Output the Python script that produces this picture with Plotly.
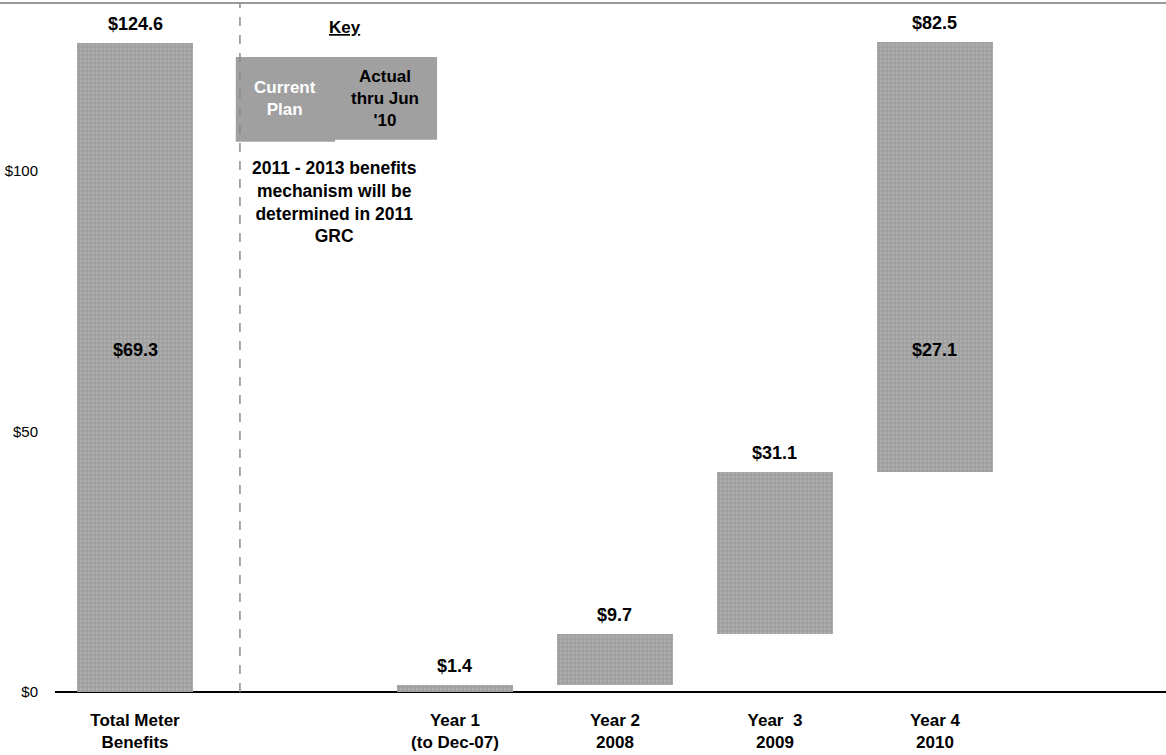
import plotly.graph_objects as go

# Smart meter benefits ($M), waterfall by program year
categories = ["Total Meter<br>Benefits", "Year 1<br>(to Dec-07)", "Year 2<br>2008", "Year  3<br>2009", "Year 4<br>2010"]
cat_pos = [0, 2, 3, 4, 5]
total_benefits = 124.6
year_values = [1.4, 9.7, 31.1, 82.5]
actual_labels = ["$69.3", "$27.1"]     # actual thru Jun '10 (total, year 4)
actual_pos = [0, 5]
y_ticks = [0, 50, 100]
y_ticktext = ["$0", "$50", "$100"]

# waterfall bases for the yearly steps
bases = []
running = 0.0
for v in year_values:
    bases.append(running)
    running += v

bar_x = cat_pos
bar_base = [0] + bases
bar_h = [total_benefits] + year_values
bar_tops = [b + h for b, h in zip(bar_base, bar_h)]
top_labels = [f"${v:.1f}" for v in bar_h]

BAR = "#a0a0a0"
FONT = "Liberation Sans, Arial, sans-serif"
NARROW = "Liberation Sans Narrow, Arial Narrow, Liberation Sans, sans-serif"

fig = go.Figure()
fig.add_trace(go.Bar(
    x=bar_x, y=bar_h, base=bar_base, width=0.72,
    marker=dict(color=BAR, line=dict(width=0),
                pattern=dict(shape=".", fgcolor="#bdbdbd", bgcolor=BAR, size=4, solidity=0.3)),
    hoverinfo="skip", showlegend=False,
))

annotations = []
for x, top, lab in zip(bar_x, bar_tops, top_labels):
    annotations.append(dict(x=x, y=top, text=f"<b>{lab}</b>", showarrow=False,
                            yanchor="middle", yshift=19, font=dict(size=18, color="black", family=FONT)))
for x, lab in zip(actual_pos, actual_labels):
    annotations.append(dict(x=x, y=65.6, text=f"<b>{lab}</b>", showarrow=False,
                            font=dict(size=18, color="black", family=FONT)))

# key
annotations.append(dict(x=1.31, y=127.6, text="<b><u>Key</u></b>", showarrow=False,
                        font=dict(size=17, color="black", family=FONT)))
annotations.append(dict(x=0.94, y=114.0, text="<b>Current<br>Plan</b>", showarrow=False,
                        font=dict(size=17, color="white", family=FONT)))
annotations.append(dict(x=1.565, y=114.0, text="<b>Actual<br>thru Jun<br>'10</b>", showarrow=False,
                        font=dict(size=17, color="black", family=FONT)))
annotations.append(dict(x=1.25, y=94.0,
                        text="<b>2011 - 2013 benefits<br>mechanism will be<br>determined in 2011<br>GRC</b>",
                        showarrow=False, font=dict(size=17.5, color="black", family=FONT)))

shapes = [
    dict(type="rect", xref="x", yref="y", x0=0.63, x1=1.25, y0=105.6, y1=121.9,
         fillcolor=BAR, line=dict(width=0), layer="below"),
    dict(type="rect", xref="x", yref="y", x0=1.25, x1=1.888, y0=106.0, y1=121.9,
         fillcolor=BAR, line=dict(width=0), layer="below"),
    dict(type="line", xref="x", yref="paper", x0=0.656, x1=0.656, y0=0, y1=1,
         line=dict(color="#8a8a8a", width=1.5, dash="dash")),
    dict(type="line", xref="paper", yref="paper", x0=-0.05, x1=1.0, y0=1, y1=1,
         line=dict(color="#9a9a9a", width=2)),
]

fig.update_layout(
    width=1166, height=755,
    margin=dict(l=55, r=0, t=3, b=63),
    paper_bgcolor="white", plot_bgcolor="white",
    bargap=0, annotations=annotations, shapes=shapes,
    xaxis=dict(range=[-0.5, 6.444], tickvals=cat_pos, ticktext=[f"<b>{c}</b>" for c in categories],
               showgrid=False, zeroline=False, showline=False, ticks="",
               ticklabelstandoff=16, tickfont=dict(size=17, color="black", family=FONT)),
    yaxis=dict(range=[0, 132.25], tickvals=y_ticks, ticktext=y_ticktext,
               showgrid=False, zeroline=True, zerolinecolor="black", zerolinewidth=2,
               showline=False, ticks="", ticklabelstandoff=16,
               tickfont=dict(size=15, color="black", family=NARROW)),
)

fig.write_html("out.html")
